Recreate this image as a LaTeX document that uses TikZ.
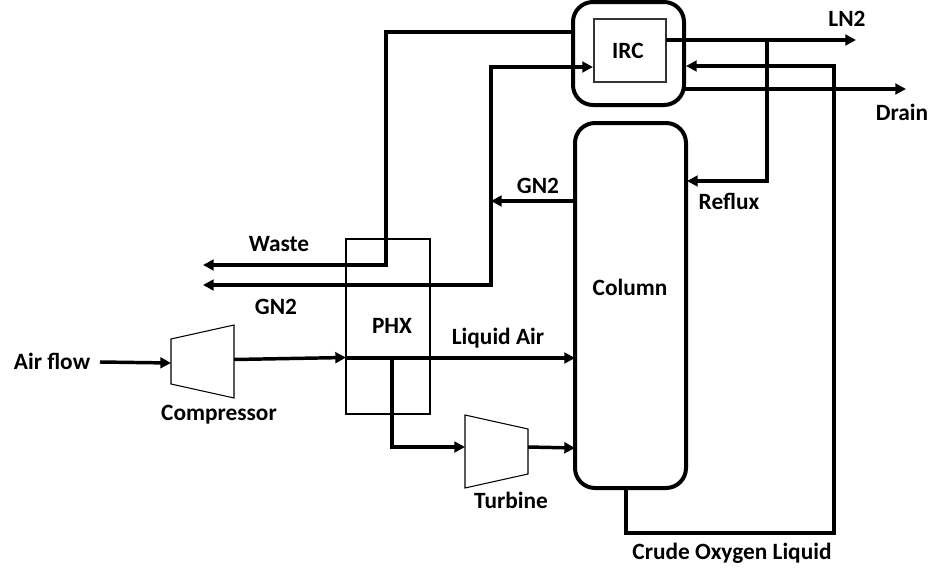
\documentclass[tikz,border=0pt]{standalone}
\usepackage{fontspec}
\setmainfont{Carlito}
\usetikzlibrary{arrows.meta}
\tikzset{
  x=0.75pt,y=-0.75pt,
  vessel/.style={draw=black,line width=3pt,rounded corners=15pt,fill=none,inner sep=0pt},
  thinbox/.style={draw=black!80,line width=1pt,inner sep=0pt},
  hxbox/.style={draw=black,line width=1.8pt,inner sep=0pt},
  machine/.style={draw=black,line width=0.8pt,fill=white,line join=miter},
  pipe/.style={draw=black,line width=2.6pt,line join=miter},
  flow/.style={pipe,-{Triangle[length=8pt,width=8pt]}},
  lbl/.style={font=\fontsize{17.5}{20}\selectfont\bfseries,inner sep=0pt,text=black}
}
\begin{document}
\begin{tikzpicture}
\useasboundingbox (0,0) rectangle (932,571);
% vessels
\node[vessel,minimum width=83.25pt,minimum height=77.25pt] (ircshell) at (628.5,53.5) {};
\node[thinbox,minimum width=54pt,minimum height=47.25pt] (irc) at (630,50.5) {};
\node[vessel,minimum width=83.25pt,minimum height=273.75pt] (column) at (630.5,305.5) {};
\node[hxbox,minimum width=63pt,minimum height=131.25pt] (phx) at (388,326.5) {};
% machines
\coordinate (c1) at (171,339); \coordinate (c2) at (234,325); \coordinate (c3) at (234,398); \coordinate (c4) at (171,384);
\coordinate (t1) at (465,415); \coordinate (t2) at (528,429); \coordinate (t3) at (528,474); \coordinate (t4) at (465,488);
\draw[machine] (c1) -- (c2) -- (c3) -- (c4) -- cycle;
\draw[machine] (t1) -- (t2) -- (t3) -- (t4) -- cycle;
% free ends and junctions
\coordinate (airin) at (100,362); \coordinate (compin) at (171,363);
\coordinate (compout) at (234,359.5); \coordinate (phxin) at (346,357.5);
\coordinate (laout) at (346,358); \coordinate (colla) at (575,358);
\coordinate (branch) at (392,358); \coordinate (bend1) at (392,447); \coordinate (turbin) at (465,447);
\coordinate (turbout) at (528,447); \coordinate (colturb) at (575,448);
\coordinate (wastest) at (571,32); \coordinate (w1) at (386,32); \coordinate (w2) at (386,265); \coordinate (wasteend) at (203,265);
\coordinate (ircin) at (593,67); \coordinate (g1) at (491,67); \coordinate (g2) at (491,285); \coordinate (gn2end) at (203,285);
\coordinate (colgn) at (575,201); \coordinate (gnj) at (491,201);
\coordinate (ircout) at (666,40); \coordinate (lnend) at (856,40);
\coordinate (rj) at (767,40); \coordinate (r1) at (767,181); \coordinate (colr) at (687,181);
\coordinate (drst) at (684,89); \coordinate (drend) at (906,89);
\coordinate (colbot) at (626,488); \coordinate (cr1) at (626,533); \coordinate (cr2) at (834,533); \coordinate (cr3) at (834,66); \coordinate (shellin) at (686,66);
% connectors
\draw[flow] (airin) -- (compin);
\draw[flow] (compout) -- (phxin);
\draw[pipe] (laout) -- (branch);
\draw[flow] (branch) -- (colla);
\draw[flow] (branch) -- (bend1) -- (turbin);
\draw[flow] (turbout) -- (colturb);
\draw[flow] (wastest) -- (w1) -- (w2) -- (wasteend);
\draw[pipe,{Triangle[length=8pt,width=8pt]}-{Triangle[length=8pt,width=8pt]}] (gn2end) -- (g2) -- (g1) -- (ircin);
\draw[flow] (colgn) -- (gnj);
\draw[flow] (ircout) -- (lnend);
\draw[flow] (rj) -- (r1) -- (colr);
\draw[flow] (drst) -- (drend);
\draw[flow] (colbot) -- (cr1) -- (cr2) -- (cr3) -- (shellin);
% labels
\node[lbl] (lirc) at (628,51) {IRC};
\node[lbl] (lln) at (847,19) {LN2};
\node[lbl] (ldrain) at (902,112) {Drain};
\node[lbl] (lreflux) at (729,201) {Reflux};
\node[lbl] (lgnu) at (538,186) {GN2};
\node[lbl] (lwaste) at (279,244) {Waste};
\node[lbl] (lgnl) at (276,307) {GN2};
\node[lbl] (lphx) at (392,326) {PHX};
\node[lbl] (lair) at (52,361) {Air flow};
\node[lbl] (lcomp) at (219,415) {Compressor};
\node[lbl] (lliq) at (498,338) {Liquid Air};
\node[lbl] (lcol) at (630,287) {Column};
\node[lbl] (lturb) at (511,500) {Turbine};
\node[lbl] (lcrude) at (732,553) {Crude Oxygen Liquid};
\end{tikzpicture}
\end{document}
